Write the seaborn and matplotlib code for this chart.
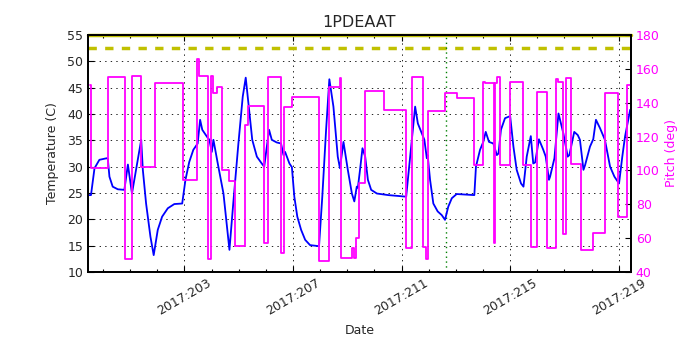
import matplotlib
matplotlib.use("Agg")
import matplotlib.pyplot as plt
import seaborn as sns
import pandas as pd
from matplotlib.ticker import FixedLocator, MultipleLocator, FuncFormatter

# ---------------- data (day-of-year 2017) ----------------
temp_day = [199.50, 199.56, 199.69, 199.87, 200.14, 200.18, 200.24, 200.36, 200.55, 200.79,
            200.92, 201.07, 201.41, 201.47, 201.59, 201.75, 201.87, 202.02, 202.18, 202.39,
            202.63, 202.92, 203.04, 203.18, 203.33, 203.49, 203.58, 203.66, 203.83, 203.92,
            204.01, 204.07, 204.23, 204.44, 204.66, 204.80, 204.99, 205.15, 205.26, 205.36,
            205.50, 205.67, 205.85, 205.94, 206.12, 206.22, 206.40, 206.56, 206.65, 206.71,
            206.87, 206.96, 207.05, 207.16, 207.30, 207.45, 207.63, 207.96, 208.08, 208.22,
            208.34, 208.49, 208.65, 208.73, 208.86, 209.02, 209.17, 209.26, 209.35, 209.39,
            209.47, 209.56, 209.66, 209.76, 209.88, 210.09, 210.51, 211.13, 211.17, 211.50,
            211.60, 211.77, 211.84, 211.93, 211.96, 212.05, 212.17, 212.33, 212.48, 212.60,
            212.72, 212.85, 213.03, 213.34, 213.68, 213.74, 213.89, 214.01, 214.10, 214.22,
            214.38, 214.51, 214.57, 214.66, 214.81, 215.00, 215.12, 215.24, 215.40, 215.49,
            215.61, 215.76, 215.85, 215.92, 216.06, 216.22, 216.31, 216.43, 216.47, 216.63,
            216.78, 216.96, 217.12, 217.18, 217.36, 217.49, 217.57, 217.70, 217.76, 217.94,
            218.06, 218.16, 218.31, 218.49, 218.68, 218.84, 219.01, 219.13, 219.23, 219.42]
temps = [24.6, 24.6, 29.7, 31.3, 31.6, 31.5, 28.1, 26.2, 25.7, 25.6,
         30.4, 24.9, 35.1, 29.4, 23.0, 16.7, 13.2, 18.0, 20.5, 22.1,
         22.9, 23.0, 27.5, 30.9, 33.2, 34.4, 38.9, 37.0, 35.7, 35.1,
         32.8, 35.1, 30.6, 24.9, 14.2, 23.0, 34.4, 43.3, 46.9, 42.0,
         35.1, 31.9, 30.6, 30.0, 37.0, 35.1, 34.6, 34.4, 32.2, 32.8,
         30.6, 29.9, 24.3, 20.5, 18.0, 16.1, 15.1, 14.9, 24.3, 37.0,
         46.6, 41.4, 31.9, 29.7, 34.7, 29.4, 24.9, 23.4, 26.2, 26.0,
         29.4, 33.5, 31.9, 27.5, 25.6, 24.9, 24.6, 24.3, 24.3, 41.4,
         38.2, 36.0, 35.1, 31.6, 32.2, 27.5, 23.0, 21.5, 20.8, 19.9,
         22.4, 24.0, 24.8, 24.7, 24.6, 30.0, 33.2, 34.7, 36.6, 34.7,
         34.4, 32.2, 32.5, 37.0, 39.2, 39.6, 33.8, 29.4, 26.8, 26.2,
         31.9, 35.8, 30.6, 30.8, 35.2, 33.2, 31.9, 27.5, 28.1, 31.6,
         40.1, 36.3, 31.9, 32.2, 36.6, 36.0, 35.1, 29.4, 30.3, 33.8,
         35.2, 38.9, 37.3, 35.1, 30.0, 28.1, 26.8, 31.9, 35.7, 40.8]

pitch_day = [199.51, 199.56, 200.18, 200.82, 201.06, 201.41, 201.90, 202.94, 203.46, 203.54,
             203.88, 203.99, 204.07, 204.22, 204.40, 204.66, 204.87, 205.24, 205.36, 205.94,
             206.09, 206.56, 206.68, 206.96, 207.96, 208.33, 208.73, 208.77, 209.17, 209.26,
             209.31, 209.45, 209.66, 210.37, 211.17, 211.38, 211.80, 211.90, 211.99, 212.60,
             213.06, 213.68, 214.01, 214.08, 214.40, 214.44, 214.52, 214.64, 215.00, 215.49,
             215.77, 215.98, 216.35, 216.68, 216.76, 216.96, 217.06, 217.24, 217.60, 218.06,
             218.50, 218.96, 219.32, 219.43]
pitch = [150.5, 101.3, 155.4, 47.5, 155.8, 102.2, 151.5, 94.3, 165.6, 156.0,
         47.5, 156.0, 146.0, 149.5, 100.3, 94.0, 55.4, 126.8, 138.0, 57.0,
         155.0, 51.0, 137.3, 143.2, 46.7, 149.5, 154.4, 48.5, 54.0, 48.5,
         60.0, 92.8, 147.1, 135.7, 54.4, 155.4, 54.6, 47.5, 135.3, 145.6,
         143.0, 103.2, 152.4, 151.5, 57.3, 151.5, 155.0, 103.2, 152.4, 103.2,
         54.6, 146.5, 54.0, 153.8, 152.0, 62.4, 154.4, 103.8, 53.0, 63.2,
         145.9, 72.7, 150.5, 150.5]

planning_limit = 52.5
upper_limit = 55.0
marker_day = 212.63
xtick_days = [203, 207, 211, 215, 219]
title = "1PDEAAT"

# ---------------- style ----------------
sns.set_theme(style="white")
plt.rcParams["font.family"] = ["DejaVu Sans"]
plt.rcParams["xtick.direction"] = "in"
plt.rcParams["ytick.direction"] = "in"
plt.rcParams["lines.scale_dashes"] = False

temp_df = pd.DataFrame({"day": temp_day, "temp": temps})
pitch_df = pd.DataFrame({"day": pitch_day, "pitch": pitch})

fig = plt.figure(figsize=(7, 3.5), dpi=100)
ax = fig.add_axes([0.1257, 0.2229, 0.7757, 0.6771])

sns.lineplot(data=temp_df, x="day", y="temp", ax=ax, color="#0000ff", lw=1.3,
             estimator=None, sort=False, legend=False, zorder=3)
ax.axhline(planning_limit, color="#c0c000", lw=2.5, dashes=(6, 6), zorder=2)
ax.axhline(upper_limit, color="#c0c000", lw=2.5, zorder=2, clip_on=False)
ax.axvline(marker_day, color="#008000", lw=1.0, dashes=(1, 2.5), zorder=2)

ax.set_xlim(199.45, 219.45)
ax.set_ylim(10, 55)
ax.xaxis.set_major_locator(FixedLocator(xtick_days))
ax.xaxis.set_minor_locator(MultipleLocator(1))
ax.xaxis.set_major_formatter(FuncFormatter(lambda v, p: f"2017:{int(round(v)):03d}"))
ax.yaxis.set_major_locator(MultipleLocator(5))
ax.grid(True, which="major", color="black", dashes=(1, 3), linewidth=0.6)
ax.tick_params(axis="x", which="both", top=True, bottom=True, labelsize=9)
ax.tick_params(axis="x", which="major", length=4, width=0.8, color="black")
ax.tick_params(axis="x", which="minor", length=2, width=0.8, color="black")
ax.tick_params(axis="y", which="major", left=True, length=4, width=0.8, labelsize=9, color="black")
for lbl in ax.get_xticklabels():
    lbl.set_rotation(30)
    lbl.set_ha("center")
ax.set_xlabel("Date", fontsize=9)
ax.set_ylabel("Temperature (C)", fontsize=9, labelpad=6)
ax.set_title(title, fontsize=11.5)
for s in ax.spines.values():
    s.set_color("black")
    s.set_linewidth(1.3)

ax2 = ax.twinx()
sns.lineplot(data=pitch_df, x="day", y="pitch", ax=ax2, color="#ff00ff", lw=1.3,
             estimator=None, sort=False, legend=False, drawstyle="steps-post")
ax2.set_ylim(40, 180)
ax2.set_xlim(199.45, 219.45)
ax2.yaxis.set_major_locator(MultipleLocator(20))
ax2.grid(False)
ax2.tick_params(axis="y", which="major", right=True, length=4, width=0.8,
                labelsize=9, labelcolor="#ff00ff", color="black")
ax2.set_ylabel("Pitch (deg)", fontsize=9, color="#ff00ff")
for s in ax2.spines.values():
    s.set_color("black")
    s.set_linewidth(1.3)

fig.savefig("out.png", dpi=100, facecolor="white")
